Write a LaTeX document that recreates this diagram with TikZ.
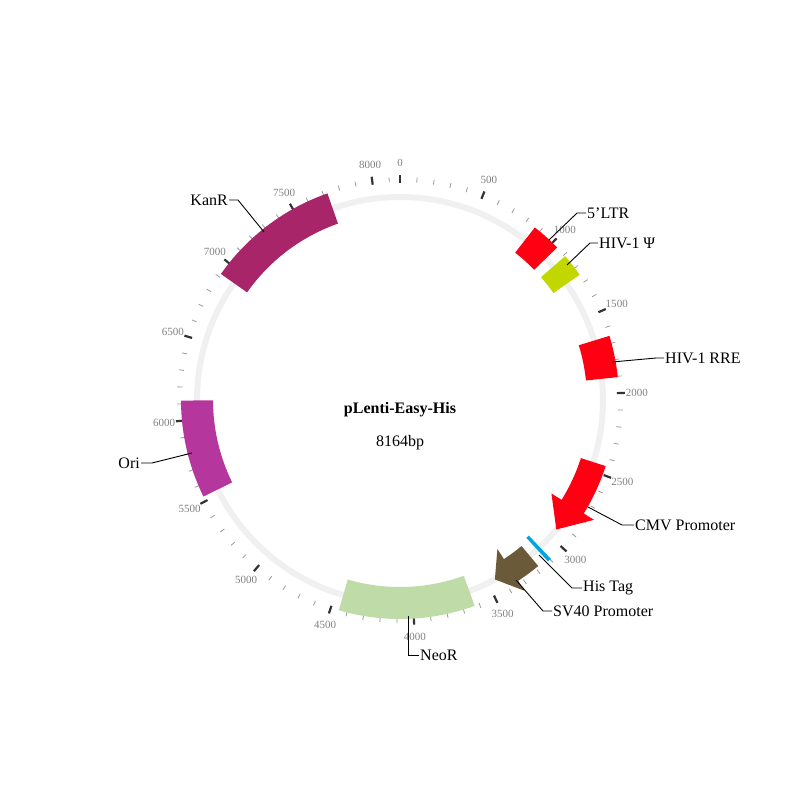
\documentclass[tikz,border=0pt]{standalone}
\usepackage{fontspec}
\setmainfont{Liberation Serif}
\newfontfamily\tickfont{DejaVu Sans}
\definecolor{ltr}{HTML}{FF0013}
\definecolor{psi}{HTML}{C2D600}
\definecolor{histag}{HTML}{00A5E0}
\definecolor{sv}{HTML}{6B5A3A}
\definecolor{neo}{HTML}{BFDBA8}
\definecolor{ori}{HTML}{B5379E}
\definecolor{kan}{HTML}{A8256A}
\newcommand{\featarc}[4]{%
  \pgfmathsetmacro\aA{#2/8164*360-90}\pgfmathsetmacro\aB{#3/8164*360-90}
  \fill[#1] (\aA:187) arc[start angle=\aA,end angle=\aB,radius=187] -- (\aB:219) arc[start angle=\aB,end angle=\aA,radius=219] -- cycle;}
\newcommand{\featarrow}[4]{%
  \pgfmathsetmacro\aA{#2/8164*360-90}\pgfmathsetmacro\aB{#3/8164*360-90}\pgfmathsetmacro\aC{#4/8164*360-90}
  \fill[#1] (\aA:190) arc[start angle=\aA,end angle=\aB,radius=190] -- (\aB:178) -- (\aC:203) -- (\aB:228) -- (\aB:216) arc[start angle=\aB,end angle=\aA,radius=216] -- cycle;}
\tikzset{lbl/.style={font=\fontsize{16}{19}\selectfont,inner sep=1pt},
  lead/.style={black,line width=0.9pt},
  tick/.style={gray!80,line width=0.8pt},
  major/.style={black!80,line width=2.2pt}}
\begin{document}
\begin{tikzpicture}[x=1pt,y=-1pt]
\useasboundingbox (0,0) rectangle (800,800);
\begin{scope}[shift={(400,400)}]
\draw[black!6,line width=6pt] (0,0) circle[radius=203];
\foreach \p in {0,100,...,8100}{
  \pgfmathsetmacro\a{\p/8164*360-90}
  \pgfmathtruncatemacro\m{mod(\p,500)}
  \ifnum\m=0
    \draw[major] (\a:217) -- (\a:225);
    \node[font=\fontsize{11}{13}\selectfont,text=gray] at (\a:237) {\p};
  \else
    \draw[tick] (\a:218) -- (\a:223);
  \fi}
\featarc{ltr}{862}{1040}{}
\featarc{psi}{1110}{1250}{}
\featarc{ltr}{1655}{1905}{}
\featarrow{ltr}{2445}{2760}{2940}
\featarc{histag}{3095}{3118}{}
\featarrow{sv}{3180}{3330}{3450}
\featarc{neo}{3630}{4450}{}
\featarc{ori}{5530}{6120}{}
\featarc{kan}{6920}{7725}{}
\node[font=\bfseries\fontsize{16}{19}\selectfont] (title) at (0,10) {pLenti-Easy-His};
\node[font=\fontsize{16}{19}\selectfont] (len) at (0,43) {8164bp};
\end{scope}
\node[lbl,anchor=west] (l1) at (586,213) {5'LTR};
\node[lbl,anchor=west] (l2) at (598,243) {HIV-1 Ψ};
\node[lbl,anchor=west] (l3) at (664,358) {HIV-1 RRE};
\node[lbl,anchor=west] (l4) at (634,525) {CMV Promoter};
\node[lbl,anchor=west] (l5) at (582,588) {His Tag};
\node[lbl,anchor=west] (l6) at (552,611) {SV40 Promoter};
\node[lbl,anchor=west] (l7) at (419,655) {NeoR};
\node[lbl,anchor=east] (l8) at (141,463) {Ori};
\node[lbl,anchor=east] (l9) at (229,200) {KanR};
\draw[lead] (549,240) -- (577,213) -- (l1.west);
\draw[lead] (567,265) -- (590,243) -- (l2.west);
\draw[lead] (612,362) -- (656,358) -- (l3.west);
\draw[lead] (588,507) -- (622,525) -- (l4.west);
\draw[lead] (539,555) -- (572,588) -- (l5.west);
\draw[lead] (516,580) -- (543,611) -- (l6.west);
\draw[lead] (408,616) -- (408,655) -- (l7.west);
\draw[lead] (192,453) -- (152,463) -- (l8.east);
\draw[lead] (264,232) -- (238,200) -- (l9.east);
\end{tikzpicture}
\end{document}
